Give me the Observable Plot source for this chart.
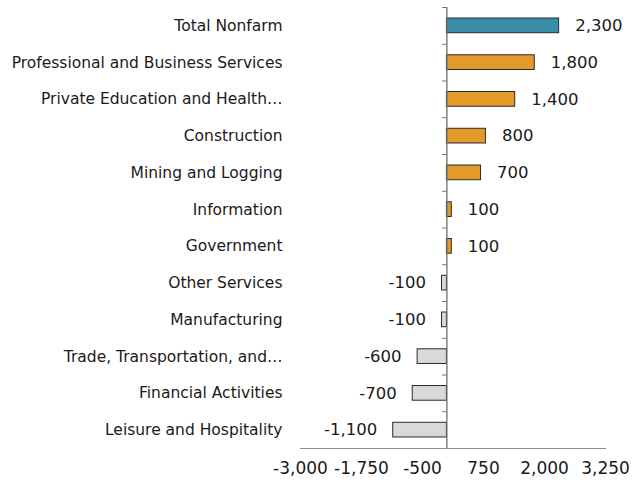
<!DOCTYPE html>
<html>
<head>
<meta charset="utf-8">
<script src="https://cdn.jsdelivr.net/npm/d3@7"></script>
<script src="https://cdn.jsdelivr.net/npm/@observablehq/plot@0.6"></script>
<style>
  html, body { margin: 0; padding: 0; background: #fff; }
  #chart svg { display: block; }
</style>
</head>
<body>
<div id="chart"></div>
<script>
const categories = [
  "Total Nonfarm",
  "Professional and Business Services",
  "Private Education and Health…",
  "Construction",
  "Mining and Logging",
  "Information",
  "Government",
  "Other Services",
  "Manufacturing",
  "Trade, Transportation, and…",
  "Financial Activities",
  "Leisure and Hospitality"
];
const values = [2300, 1800, 1400, 800, 700, 100, 100, -100, -100, -600, -700, -1100];
const xTicks = [-3000, -1750, -500, 750, 2000, 3250];

const data = categories.map((c, i) => ({category: c, value: values[i], total: i === 0}));
const fmt = d3.formatLocale({thousands: ",", grouping: [3], currency: ["", ""], minus: "-"}).format(",");
const fillOf = d => d.total ? "#378ea6" : d.value > 0 ? "#e39a28" : "#d9d9d9";

const W = 641, H = 487, mTop = 7, mBottom = 39;
const step = (H - mTop - mBottom) / categories.length;

const chart = Plot.plot({
  width: W,
  height: H,
  marginLeft: 300,
  marginRight: 36,
  marginTop: mTop,
  marginBottom: mBottom,
  style: {fontFamily: "'DejaVu Sans', sans-serif", fontSize: "15.5px", color: "#1a1a1a", background: "#fff"},
  x: {domain: [-3000, 3250], ticks: xTicks},
  y: {domain: categories, paddingInner: 0.6, paddingOuter: 0.3, round: false},
  marks: [
    Plot.frame({anchor: "bottom", stroke: "#8c8c8c"}),
    Plot.axisX({ticks: xTicks, tickSize: 0, tickPadding: 13, tickFormat: fmt, fontSize: 17, label: null}),
    Plot.axisY({tickSize: 0, tickPadding: 18, fontSize: 15.5, label: null}),
    Plot.barX(data, {x: "value", y: "category", fill: fillOf, stroke: "#2b2b2b", strokeWidth: 1}),
    Plot.ruleX([0], {stroke: "#6e6e6e", strokeWidth: 1.3}),
    Plot.ruleY(categories, {y: d => d, x1: -85, x2: 0, dy: -step / 2, stroke: "#6e6e6e"}),
    Plot.text(data.filter(d => d.value >= 0), {x: "value", y: "category", text: d => fmt(d.value), textAnchor: "start", dx: 16, fontSize: 16.5, fill: "#1a1a1a"}),
    Plot.text(data.filter(d => d.value < 0), {x: "value", y: "category", text: d => fmt(d.value), textAnchor: "end", dx: -16, fontSize: 16.5, fill: "#1a1a1a"})
  ]
});
document.getElementById("chart").appendChild(chart);
</script>
</body>
</html>
